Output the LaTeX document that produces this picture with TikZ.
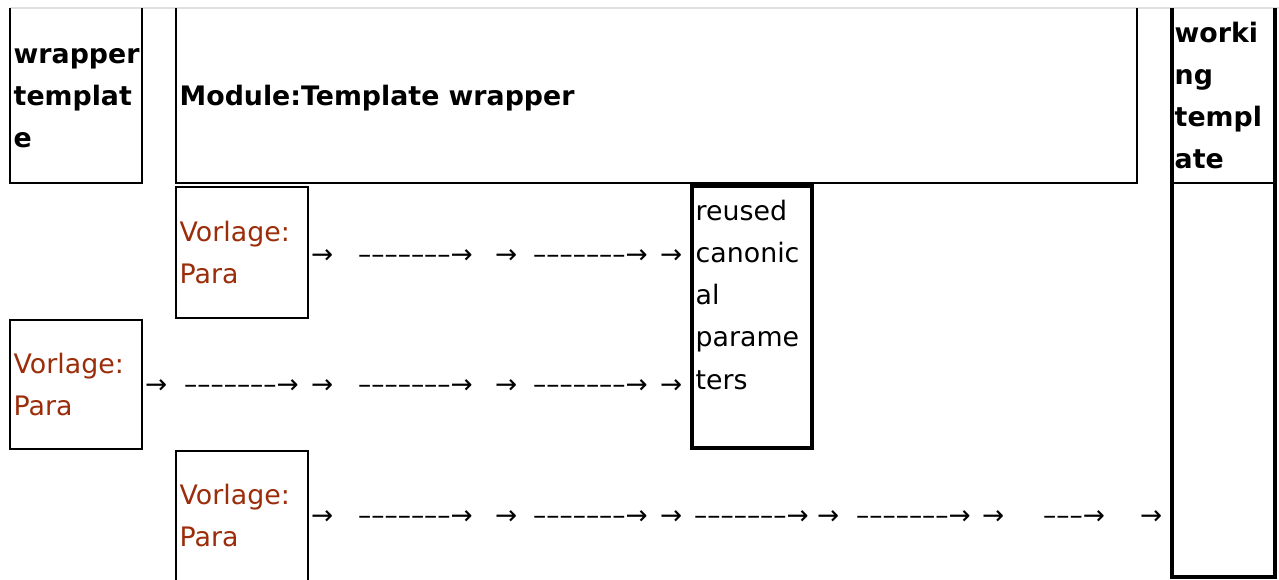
\documentclass[tikz,border=0pt]{standalone}
\usepackage{fontspec}
\setmainfont{DejaVu Sans}
\definecolor{linkc}{RGB}{155,45,10}
\newcommand{\myar}{→}
\newcommand{\mylar}{–––––––→}
\newcommand{\myshar}{–––→}
\begin{document}
\begin{tikzpicture}[x=1pt,y=-1pt,
  txt/.style={anchor=base west, inner sep=0pt, font=\fontsize{26.8}{42.3}\selectfont},
  btxt/.style={txt, font=\fontsize{26.8}{42.3}\selectfont\bfseries},
  ltxt/.style={txt, text=linkc},
  atxt/.style={anchor=base west, inner sep=0pt, font=\fontsize{26.4}{42}\selectfont},
  cellbox/.style={draw, line width=2pt, inner sep=0pt},
  heavybox/.style={draw, line width=3.5pt, inner sep=0pt}]
\useasboundingbox (0,0) rectangle (1279,579);
\fill[white] (0,0) rectangle (1279,579);
\draw[black!12, line width=1.5pt] (10,8) -- (1279,8);
\begin{scope}
\clip (0,8) rectangle (1279,579);
\node[cellbox, minimum width=132pt, minimum height=193pt] (wrapper) at (76,86.5) {};
\node[cellbox, minimum width=961pt, minimum height=193pt] (module) at (656.5,86.5) {};
\node[heavybox, minimum width=103pt, minimum height=587pt] (working) at (1223.5,283.5) {};
\coordinate (div) at (0,183);
\draw[line width=2pt] (working.west |- div) -- (working.east |- div);
\node[cellbox, minimum width=132pt, minimum height=131pt] (v1) at (242,252.5) {};
\node[cellbox, minimum width=132pt, minimum height=129pt] (v2) at (76,384.5) {};
\node[cellbox, minimum width=132pt, minimum height=149pt] (v3) at (242,525.5) {};
\node[heavybox, minimum width=120pt, minimum height=262pt] (reused) at (752,317) {};
\end{scope}
% texts
\node[btxt] (twrapper) at (13.5,63) {\vtop{\hbox{wrapper}\hbox{templat}\hbox{e}}};
\node[btxt] (tmodule) at (179.5,105) {Module:Template wrapper};
\node[btxt] (tworking) at (1174.5,42) {\vtop{\hbox{worki}\hbox{ng}\hbox{templ}\hbox{ate}}};
\node[ltxt] (tv1) at (179.5,241) {\vtop{\hbox{Vorlage:}\hbox{Para}}};
\node[ltxt] (tv2) at (13.5,373) {\vtop{\hbox{Vorlage:}\hbox{Para}}};
\node[ltxt] (tv3) at (179.5,504) {\vtop{\hbox{Vorlage:}\hbox{Para}}};
\node[txt] (treused) at (695.5,220) {\vtop{\hbox{reused}\hbox{canonic}\hbox{al}\hbox{parame}\hbox{ters}}};
% arrow rows
\foreach \x/\t [count=\i] in {311/\myar, 358/\mylar, 495/\myar, 533/\mylar, 660/\myar}
  \node[atxt] (ra\i) at (\x,263) {\t};
\foreach \x/\t [count=\i] in {145/\myar, 184/\mylar, 311/\myar, 358/\mylar, 495/\myar, 533/\mylar, 660/\myar}
  \node[atxt] (rb\i) at (\x,393) {\t};
\foreach \x/\t [count=\i] in {311/\myar, 358/\mylar, 495/\myar, 533/\mylar, 660/\myar, 694/\mylar, 817/\myar, 856/\mylar, 982/\myar, 1043/\myshar, 1140/\myar}
  \node[atxt] (rc\i) at (\x,524) {\t};
\end{tikzpicture}
\end{document}
